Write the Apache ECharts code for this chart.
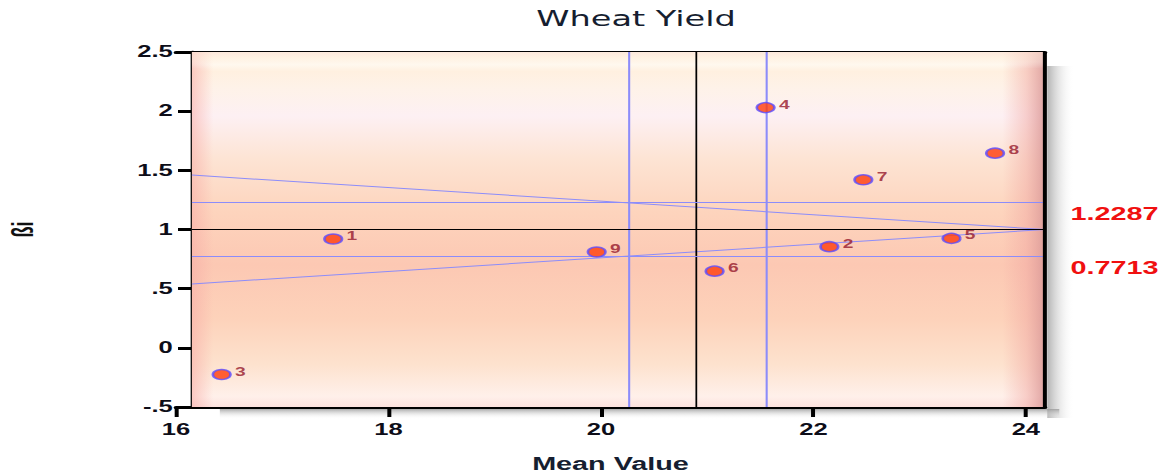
<!DOCTYPE html>
<html><head><meta charset="utf-8">
<script src="https://cdn.jsdelivr.net/npm/echarts@6/dist/echarts.min.js"></script>
<style>
html,body{margin:0;padding:0;background:#fff;overflow:hidden;width:1164px;height:474px}
#wrap{width:728px;height:474px;transform:scaleX(1.598901);transform-origin:0 0;}
</style></head><body><div id="wrap"></div>
<script>
// ---- data ----
const genotypes = ['1', '2', '3', '4', '5', '6', '7', '8', '9'];
const meanValues = [17.48, 22.15, 16.43, 21.55, 23.30, 21.07, 22.47, 23.71, 19.96];
const betaValues = [0.92, 0.855, -0.225, 2.03, 0.925, 0.648, 1.42, 1.645, 0.81];
const xTicks = [16, 18, 20, 22, 24];
const grandMean = 20.9;
const meanBounds = [20.26, 21.55];
const betaRef = 1;
const betaBounds = [1.2287, 0.7713];
const upperLine = [[16.15, 1.46], [24.18, 1.0]];
const lowerLine = [[16.15, 0.54], [24.18, 1.0]];
const X_MIN = 16, X_PLOT_LEFT = 16.15, X_MAX = 24.18, Y_MIN = -0.5, Y_MAX = 2.5;

const FONT = 'Liberation Sans, Arial, sans-serif';
const BLUE = '#8c8cfa';

const chart = echarts.init(document.getElementById('wrap'), null, {renderer: 'svg', width: 728, height: 474});

function lg(x2, y2, stops) {
  return {type: 'linear', x: 0, y: 0, x2: x2, y2: y2,
    colorStops: stops.map(s => ({offset: s[0], color: s[1]}))};
}

const bgAreas = [
  [{coord: [X_PLOT_LEFT, Y_MAX], itemStyle: {color: lg(0, 1, [
    [0, '#fbe2da'], [0.015, '#fff0de'], [0.035, '#fff8ee'], [0.055, '#fff0e0'],
    [0.1, '#fef2e8'], [0.18, '#fdf0f3'], [0.3, '#fde4d4'], [0.45, '#fdd4bd'],
    [0.6, '#fcc8b3'], [0.75, '#fdd2ba'], [0.88, '#fde2ce'], [0.97, '#fff0ea'], [1, '#fde2de']])}},
   {coord: [X_MAX, Y_MIN]}],
  [{coord: [X_PLOT_LEFT, Y_MAX], itemStyle: {color: lg(1, 0, [
    [0, 'rgba(247,170,165,0.55)'], [1, 'rgba(247,170,165,0)']])}},
   {coord: [X_PLOT_LEFT + 0.2, Y_MIN]}],
  [{coord: [X_MAX - 0.4, Y_MAX], itemStyle: {color: lg(1, 0, [
    [0, 'rgba(240,165,160,0)'], [0.55, 'rgba(240,165,160,0.45)'], [1, 'rgba(215,150,150,0.85)']])}},
   {coord: [X_MAX, Y_MIN]}],
  [{coord: [X_PLOT_LEFT, Y_MAX], itemStyle: {color: lg(0, 1, [
    [0, 'rgba(255,240,222,0.5)'], [0.6, 'rgba(255,246,236,0.35)'], [1, 'rgba(255,250,242,0)']])}},
   {coord: [X_MAX, 2.36]}]
];

function hLine(v, color, width, label) {
  const a = {coord: [X_PLOT_LEFT, v], lineStyle: {color: color, width: width, type: 'solid'}};
  if (label) {
    a.label = {show: true, position: 'end', formatter: String(v), distance: 16, offset: [0, 11],
      color: '#f01010', fontFamily: FONT, fontWeight: 'bold', fontSize: 18};
  }
  return [a, {coord: [X_MAX, v]}];
}
function vLine(v, color, width) {
  return [{coord: [v, Y_MIN], lineStyle: {color: color, width: width, type: 'solid'}}, {coord: [v, Y_MAX]}];
}

const refLines = [
  vLine(grandMean, '#000', 1.1),
  vLine(meanBounds[0], BLUE, 1.3),
  vLine(meanBounds[1], BLUE, 1.3),
  hLine(betaRef, '#000', 1, false),
  hLine(betaBounds[0], BLUE, 1, true),
  hLine(betaBounds[1], BLUE, 1, true),
  vLine(X_MAX, '#000', 2.5)
];

const labelStyle = {color: '#0d0d18', fontFamily: FONT, fontWeight: 'bold', fontSize: 16};

const option = {
  backgroundColor: '#fff',
  animation: false,
  title: {
    text: 'Wheat Yield', left: 397.8, top: 8, padding: 0, textAlign: 'center',
    textStyle: {fontFamily: 'DejaVu Sans, sans-serif', fontWeight: 'normal', fontSize: 21, color: '#161e30'}
  },
  grid: {left: 110.07, right: 74.43, top: 52, bottom: 67, containLabel: false, outerBoundsMode: 'none'},
  graphic: [
    {type: 'rect', silent: true, z: -1, shape: {x: 655, y: 66, width: 17, height: 352},
      style: {fill: lg(1, 0, [[0, 'rgba(160,160,160,0.8)'], [1, 'rgba(255,255,255,0)']])}},
    {type: 'rect', silent: true, z: -1, shape: {x: 137.5, y: 409, width: 525, height: 10},
      style: {fill: lg(0, 1, [[0, 'rgba(150,150,150,0.8)'], [1, 'rgba(255,255,255,0)']])}}
  ],
  xAxis: [{
    type: 'value', min: X_MIN, max: X_MAX, interval: 2,
    splitLine: {show: false},
    axisLine: {show: true, onZero: false, lineStyle: {color: '#000', width: 3}},
    axisTick: {show: true, length: 10, customValues: xTicks, lineStyle: {color: '#000', width: 2.5}},
    axisLabel: Object.assign({customValues: xTicks, margin: 15}, labelStyle),
    name: 'Mean Value', nameLocation: 'middle', nameGap: 48,
    nameTextStyle: {fontFamily: FONT, fontWeight: 'bold', fontSize: 18, color: '#161e30'}
  }, {
    type: 'value', position: 'top', min: X_MIN, max: X_MAX, interval: 2,
    splitLine: {show: false}, axisTick: {show: false}, axisLabel: {show: false},
    axisLine: {show: true, onZero: false, lineStyle: {color: '#000', width: 3}}
  }],
  yAxis: {
    type: 'value', min: Y_MIN, max: Y_MAX, interval: 0.5, offset: -10,
    splitLine: {show: false},
    axisLine: {show: true, onZero: false, lineStyle: {color: '#000', width: 2.5}},
    axisTick: {show: true, length: 8.75, lineStyle: {color: '#000', width: 3}},
    axisLabel: Object.assign({margin: 12,
      formatter: v => (v === 0 ? '0' : String(v).replace(/^(-?)0\./, '$1.'))}, labelStyle),
    name: 'ßi', nameLocation: 'middle', nameGap: 97, nameRotate: 90,
    nameTextStyle: {fontFamily: FONT, fontSize: 18, fontWeight: 'bold', color: '#111'}
  },
  series: [
    {type: 'scatter', name: 'bg', data: [], z: 1, silent: true, clip: false,
      markArea: {silent: true, label: {show: false}, itemStyle: {borderWidth: 0}, data: bgAreas}},
    {type: 'line', name: 'upper', data: upperLine, symbol: 'none', z: 2, silent: true,
      lineStyle: {color: BLUE, width: 1}},
    {type: 'line', name: 'lower', data: lowerLine, symbol: 'none', z: 2, silent: true,
      lineStyle: {color: BLUE, width: 1}},
    {type: 'scatter', name: 'refs', data: [], z: 3, silent: true, clip: false,
      markLine: {silent: true, symbol: ['none', 'none'], label: {show: false},
        emphasis: {disabled: true}, data: refLines}},
    {type: 'scatter', name: 'genotypes', z: 5, clip: false,
      data: meanValues.map((x, i) => [x, betaValues[i], genotypes[i]]),
      symbol: 'circle', symbolSize: [11, 10],
      itemStyle: {color: '#ff3c0a', borderColor: '#5b4cff', borderWidth: 1.6},
      label: {show: true, formatter: p => p.data[2], position: 'right', distance: 2, offset: [0, -3],
        color: '#96182c', fontFamily: FONT, fontWeight: 'bold', fontSize: 12}}
  ]
};
chart.setOption(option);
</script></body></html>
